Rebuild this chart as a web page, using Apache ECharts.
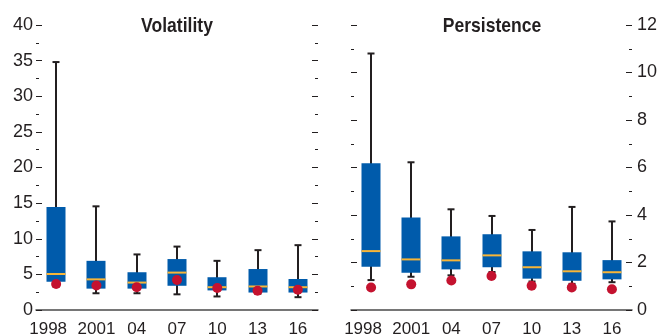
<!DOCTYPE html>
<html>
<head>
<meta charset="utf-8">
<script src="https://cdn.jsdelivr.net/npm/echarts@6/dist/echarts.min.js"></script>
<style>
  html, body { margin: 0; padding: 0; background: #fff; }
  #chart { width: 660px; height: 335px; }
</style>
</head>
<body>
<div id="chart"></div>
<script>
var categories = ['1998', '2001', '04', '07', '10', '13', '16'];

// Volatility: whisker low, 25th, median, 75th, whisker high, dot
var volLow = [3.3, 2.35, 2.35, 2.2, 1.9, 2.3, 1.8];
var volQ1 = [3.97, 3.0, 3.0, 3.4, 2.75, 2.45, 2.45];
var volMed = [5.05, 4.3, 3.85, 5.25, 3.2, 3.3, 3.2];
var volQ3 = [14.45, 6.9, 5.3, 7.15, 4.6, 5.75, 4.35];
var volHigh = [34.8, 14.55, 7.8, 8.9, 6.9, 8.4, 9.1];
var volDot = [3.65, 3.45, 3.2, 4.2, 3.1, 2.7, 2.85];

// Persistence
var perLow = [1.26, 1.4, 1.46, 1.6, 1.2, 1.1, 1.17];
var perQ1 = [1.82, 1.57, 1.71, 1.8, 1.32, 1.23, 1.29];
var perMed = [2.48, 2.13, 2.09, 2.3, 1.8, 1.63, 1.59];
var perQ3 = [6.18, 3.9, 3.1, 3.19, 2.47, 2.43, 2.1];
var perHigh = [10.8, 6.22, 4.24, 3.96, 3.37, 4.34, 3.73];
var perDot = [0.95, 1.08, 1.24, 1.43, 1.02, 0.95, 0.87];

var ink = '#231f20';
var fontFam = '"Liberation Sans", Arial, sans-serif';

function boxRows(lo, q1, md, q3, hi) {
    return categories.map(function (c, i) {
        return [i, lo[i], q1[i], md[i], q3[i], hi[i]];
    });
}

function renderBox(params, api) {
    var i = api.value(0);
    var lo = api.coord([i, api.value(1)]);
    var q1 = api.coord([i, api.value(2)]);
    var md = api.coord([i, api.value(3)]);
    var q3 = api.coord([i, api.value(4)]);
    var hi = api.coord([i, api.value(5)]);
    var x = Math.round(lo[0]);
    var bw = 19, cw = 7;
    var whisk = { stroke: ink, lineWidth: 2 };
    return {
        type: 'group',
        children: [
            { type: 'line', shape: { x1: x, y1: hi[1], x2: x, y2: lo[1] }, style: whisk },
            { type: 'line', shape: { x1: x - cw / 2, y1: hi[1], x2: x + cw / 2, y2: hi[1] }, style: whisk },
            { type: 'line', shape: { x1: x - cw / 2, y1: lo[1], x2: x + cw / 2, y2: lo[1] }, style: whisk },
            { type: 'rect', shape: { x: x - bw / 2, y: q3[1], width: bw, height: q1[1] - q3[1] }, style: { fill: '#005bab' } },
            { type: 'line', shape: { x1: x - bw / 2, y1: md[1], x2: x + bw / 2, y2: md[1] }, style: { stroke: '#f7b538', lineWidth: 2 } }
        ]
    };
}

function xAxisFor(gridIndex) {
    return {
        type: 'category',
        gridIndex: gridIndex,
        data: categories,
        boundaryGap: true,
        axisLine: { lineStyle: { color: '#4a4a4a', width: 1.5 } },
        axisTick: { inside: true, length: 8, alignWithLabel: true, lineStyle: { color: ink, width: 1.5 } },
        axisLabel: {
            color: ink, fontSize: 17, fontFamily: fontFam, margin: 11, interval: 0,
            hideOverlap: false,
            // the first label sits a little left of its tick
            formatter: function (v, idx) { return idx === 0 ? '{s|' + v + '}' : v; },
            rich: { s: { fontSize: 17, fontFamily: fontFam, color: ink, padding: [0, 16, 0, 0] } }
        },
        splitLine: { show: false }
    };
}

function yAxisFor(gridIndex, pos, max, interval, showLabel) {
    return {
        type: 'value',
        gridIndex: gridIndex,
        position: pos,
        min: 0,
        max: max,
        interval: interval,
        axisLine: { show: false },
        axisTick: { show: true, inside: true, length: 6, lineStyle: { color: ink, width: 1 } },
        minorTick: { show: true, splitNumber: 2, length: 3, lineStyle: { color: ink, width: 1 } },
        axisLabel: { show: showLabel, color: ink, fontSize: 18, fontFamily: fontFam, margin: pos === 'left' ? 3 : 5 },
        splitLine: { show: false },
        minorSplitLine: { show: false }
    };
}

// condensed bold panel titles
function panelTitle(text, cx) {
    return {
        type: 'text',
        x: cx,
        y: 26,
        scaleX: 0.835,
        style: {
            text: text,
            x: 0,
            y: 0,
            fill: ink,
            font: 'bold 21px "Liberation Sans", Arial, sans-serif',
            textAlign: 'center',
            textVerticalAlign: 'middle'
        }
    };
}

var chart = echarts.init(document.getElementById('chart'));
chart.setOption({
    animation: false,
    graphic: [panelTitle('Volatility', 177), panelTitle('Persistence', 492)],
    grid: [
        { left: 36, right: 342, top: 25, bottom: 25, outerBoundsMode: 'none' },
        { left: 351, right: 28, top: 25, bottom: 25, outerBoundsMode: 'none' }
    ],
    xAxis: [xAxisFor(0), xAxisFor(1)],
    yAxis: [
        yAxisFor(0, 'left', 40, 5, true),
        yAxisFor(0, 'right', 40, 5, false),
        yAxisFor(1, 'right', 12, 2, true),
        yAxisFor(1, 'left', 12, 2, false)
    ],
    series: [
        {
            type: 'custom', xAxisIndex: 0, yAxisIndex: 0,
            renderItem: renderBox,
            encode: { x: 0, y: [1, 2, 3, 4, 5] },
            data: boxRows(volLow, volQ1, volMed, volQ3, volHigh),
            z: 2
        },
        {
            type: 'scatter', xAxisIndex: 0, yAxisIndex: 0,
            symbolSize: 10,
            itemStyle: { color: '#c4122f', opacity: 1 },
            data: volDot,
            z: 3
        },
        {
            type: 'custom', xAxisIndex: 1, yAxisIndex: 2,
            renderItem: renderBox,
            encode: { x: 0, y: [1, 2, 3, 4, 5] },
            data: boxRows(perLow, perQ1, perMed, perQ3, perHigh),
            z: 2
        },
        {
            type: 'scatter', xAxisIndex: 1, yAxisIndex: 2,
            symbolSize: 10,
            itemStyle: { color: '#c4122f', opacity: 1 },
            data: perDot,
            z: 3
        }
    ]
});
</script>
</body>
</html>
